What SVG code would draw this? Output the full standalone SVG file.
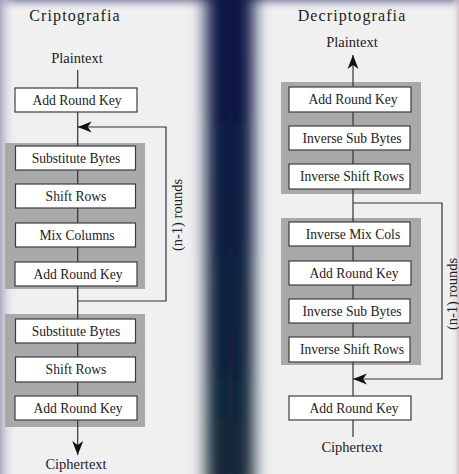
<svg xmlns="http://www.w3.org/2000/svg" width="459" height="474" viewBox="0 0 459 474">
  <defs>
    <linearGradient id="bandColor" x1="0" y1="0" x2="0" y2="1">
      <stop offset="0" stop-color="#0d1248"/>
      <stop offset="0.5" stop-color="#111f40"/>
      <stop offset="1" stop-color="#122a36"/>
    </linearGradient>
    <linearGradient id="edgeTop" x1="0" y1="0" x2="0" y2="1">
      <stop offset="0" stop-color="#8c8cae" stop-opacity="0.9"/>
      <stop offset="1" stop-color="#f0f0f0" stop-opacity="0"/>
    </linearGradient>
    <linearGradient id="edgeLeft" x1="0" y1="0" x2="1" y2="0">
      <stop offset="0" stop-color="#a4a4c0" stop-opacity="0.9"/>
      <stop offset="1" stop-color="#f0f0f0" stop-opacity="0"/>
    </linearGradient>
    <linearGradient id="edgeRight" x1="1" y1="0" x2="0" y2="0">
      <stop offset="0" stop-color="#c8b8bc" stop-opacity="0.8"/>
      <stop offset="1" stop-color="#f0f0f0" stop-opacity="0"/>
    </linearGradient>
    <filter id="soft" x="-2" y="-0.2" width="5" height="1.4">
      <feGaussianBlur stdDeviation="8"/>
    </filter>
    <marker id="head" markerUnits="userSpaceOnUse" markerWidth="16" markerHeight="14" refX="14" refY="6" orient="auto" viewBox="0 0 16 12">
      <path d="M14,6 L0,0.5 L4,6 L0,11.5 Z" fill="#111"/>
    </marker>
    <style>
      .title { font-family: "Liberation Serif", "Times New Roman", serif; font-size: 16px; letter-spacing: 1.1px; fill: #222; text-anchor: middle; }
      .io { font-family: "Liberation Serif", "Times New Roman", serif; font-size: 14.5px; fill: #222; text-anchor: middle; }
      .label { font-family: "Liberation Serif", "Times New Roman", serif; font-size: 13.6px; fill: #222; text-anchor: middle; }
      .rounds { font-family: "Liberation Serif", "Times New Roman", serif; font-size: 14.5px; fill: #222; text-anchor: middle; }
      .group { fill: #a9a9a9; }
      .box rect { fill: #ffffff; stroke: #3c3c3c; stroke-width: 1.2; }
      .wire { fill: none; stroke: #333; stroke-width: 1.2; }
    </style>
  </defs>

  <!-- backdrop -->
  <rect x="0" y="0" width="459" height="474" fill="#f0f0f0"/>
  <rect x="0" y="0" width="459" height="12" fill="url(#edgeTop)"/>
  <rect x="0" y="0" width="16" height="474" fill="url(#edgeLeft)"/>
  <rect x="451" y="0" width="8" height="474" fill="url(#edgeRight)"/>
  <rect x="206" y="-40" width="48" height="554" fill="url(#bandColor)" filter="url(#soft)"/>

  <!-- titles and end labels -->
  <text class="title" x="75" y="21">Criptografia</text>
  <text class="title" x="352" y="21">Decriptografia</text>
  <text class="io" x="77" y="63">Plaintext</text>
  <text class="io" x="76" y="469">Ciphertext</text>
  <text class="io" x="352" y="47">Plaintext</text>
  <text class="io" x="352" y="452">Ciphertext</text>

  <!-- round groupings -->
  <rect class="group" x="5" y="143" width="140" height="146"/>
  <rect class="group" x="5" y="314" width="140" height="113"/>
  <rect class="group" x="281" y="82" width="140" height="112"/>
  <rect class="group" x="281" y="218" width="140" height="147"/>

  <!-- connectors -->
  <g id="connectors">
    <line class="wire" x1="77.7" y1="70" x2="77.7" y2="420"/>
    <line class="wire" x1="77.7" y1="420" x2="77.7" y2="455" marker-end="url(#head)"/>
    <polyline class="wire" points="77.7,301 166,301 166,127 77.7,127" marker-end="url(#head)"/>
    <line class="wire" x1="353" y1="437" x2="353" y2="90"/>
    <line class="wire" x1="353" y1="90" x2="353" y2="55" marker-end="url(#head)"/>
    <polyline class="wire" points="353,203 442,203 442,379 353,379" marker-end="url(#head)"/>
    <text class="rounds" transform="translate(182,215) rotate(-90)">(n-1) rounds</text>
    <text class="rounds" transform="translate(457,294) rotate(-90)">(n-1) rounds</text>
  </g>

  <!-- encryption steps -->
  <g id="enc-ark0" class="box"><rect x="15" y="88" width="122" height="24"/><text class="label" x="77" y="105">Add Round Key</text></g>
  <g id="enc-sub1" class="box"><rect x="15.5" y="146" width="120" height="24"/><text class="label" x="76" y="163">Substitute Bytes</text></g>
  <g id="enc-shift1" class="box"><rect x="15.5" y="184" width="120" height="24"/><text class="label" x="76" y="201">Shift Rows</text></g>
  <g id="enc-mix1" class="box"><rect x="15.5" y="223" width="120" height="24"/><text class="label" x="77" y="240">Mix Columns</text></g>
  <g id="enc-ark1" class="box"><rect x="15" y="262" width="122" height="24"/><text class="label" x="78" y="279">Add Round Key</text></g>
  <g id="enc-sub2" class="box"><rect x="15.5" y="319" width="120" height="24"/><text class="label" x="76" y="336">Substitute Bytes</text></g>
  <g id="enc-shift2" class="box"><rect x="15.5" y="357" width="120" height="25"/><text class="label" x="76" y="374">Shift Rows</text></g>
  <g id="enc-ark2" class="box"><rect x="15" y="396" width="122" height="24"/><text class="label" x="78" y="413">Add Round Key</text></g>

  <!-- decryption steps -->
  <g id="dec-ark0" class="box"><rect x="289" y="87" width="122" height="25"/><text class="label" x="353" y="104">Add Round Key</text></g>
  <g id="dec-isub0" class="box"><rect x="289" y="126" width="121" height="24"/><text class="label" x="352" y="143">Inverse Sub Bytes</text></g>
  <g id="dec-ishift0" class="box"><rect x="289" y="164" width="121" height="25"/><text class="label" x="352" y="181">Inverse Shift Rows</text></g>
  <g id="dec-imix1" class="box"><rect x="289" y="222" width="121" height="24"/><text class="label" x="353" y="239">Inverse Mix Cols</text></g>
  <g id="dec-ark1" class="box"><rect x="289" y="261" width="122" height="24"/><text class="label" x="354" y="278">Add Round Key</text></g>
  <g id="dec-isub1" class="box"><rect x="289" y="299" width="121" height="24"/><text class="label" x="352" y="316">Inverse Sub Bytes</text></g>
  <g id="dec-ishift1" class="box"><rect x="289" y="337" width="121" height="25"/><text class="label" x="352" y="354">Inverse Shift Rows</text></g>
  <g id="dec-ark2" class="box"><rect x="289" y="396" width="122" height="24"/><text class="label" x="354" y="413">Add Round Key</text></g>
</svg>
